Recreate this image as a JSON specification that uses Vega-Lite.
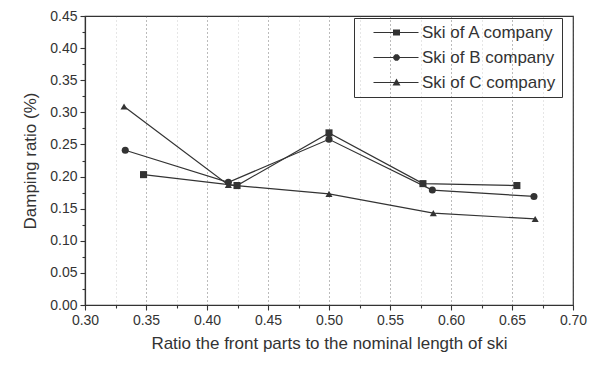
{
  "$schema": "https://vega.github.io/schema/vega-lite/v6.json",
  "width": 488,
  "height": 289,
  "autosize": "none",
  "padding": {"left": 85, "top": 16, "right": 18, "bottom": 60},
  "background": "white",
  "config": {
    "font": "Liberation Sans",
    "view": {"stroke": "#333", "strokeWidth": 1.2},
    "axis": {"labelFont": "Liberation Sans", "titleFont": "Liberation Sans", "titleFontWeight": "normal", "labelColor": "#333", "titleColor": "#333", "domainColor": "#333", "tickColor": "#333", "domainWidth": 1.2, "tickWidth": 1.1}
  },
  "data": {
    "values": [
      {"series": "Ski of A company", "ratio": 0.348, "damping": 0.203},
      {"series": "Ski of A company", "ratio": 0.4246, "damping": 0.186},
      {"series": "Ski of A company", "ratio": 0.5, "damping": 0.268},
      {"series": "Ski of A company", "ratio": 0.577, "damping": 0.189},
      {"series": "Ski of A company", "ratio": 0.654, "damping": 0.186},
      {"series": "Ski of B company", "ratio": 0.333, "damping": 0.241},
      {"series": "Ski of B company", "ratio": 0.4175, "damping": 0.191},
      {"series": "Ski of B company", "ratio": 0.5, "damping": 0.258},
      {"series": "Ski of B company", "ratio": 0.5847, "damping": 0.179},
      {"series": "Ski of B company", "ratio": 0.668, "damping": 0.169},
      {"series": "Ski of C company", "ratio": 0.332, "damping": 0.309},
      {"series": "Ski of C company", "ratio": 0.4175, "damping": 0.187},
      {"series": "Ski of C company", "ratio": 0.5, "damping": 0.173},
      {"series": "Ski of C company", "ratio": 0.5855, "damping": 0.143},
      {"series": "Ski of C company", "ratio": 0.669, "damping": 0.134}
    ]
  },
  "encoding": {
    "x": {
      "field": "ratio", "type": "quantitative",
      "scale": {"domain": [0.3, 0.7], "nice": false, "zero": false},
      "axis": {
        "title": "Ratio the front parts  to the nominal length of ski",
        "titleFontSize": 17, "titlePadding": 8,
        "labelFontSize": 14, "labelPadding": 3,
        "values": [0.3, 0.325, 0.35, 0.375, 0.4, 0.425, 0.45, 0.475, 0.5, 0.525, 0.55, 0.575, 0.6, 0.625, 0.65, 0.675, 0.7],
        "labelExpr": "round(datum.value*1000) % 50 === 0 ? format(datum.value, '.2f') : ''",
        "tickSize": {"condition": {"test": "round(datum.value*1000) % 50 === 0", "value": 5}, "value": 3},
        "grid": true,
        "gridDash": [1, 3],
        "gridColor": "#555",
        "gridOpacity": {"condition": {"test": "round(datum.value*1000) % 50 === 0", "value": 0.8}, "value": 0.3},
        "labelFlush": false
      }
    },
    "y": {
      "field": "damping", "type": "quantitative",
      "scale": {"domain": [0, 0.45], "nice": false},
      "axis": {
        "title": "Damping ratio (%)",
        "titleFontSize": 17, "titlePadding": 10,
        "labelFontSize": 14, "labelPadding": 3,
        "values": [0, 0.025, 0.05, 0.075, 0.1, 0.125, 0.15, 0.175, 0.2, 0.225, 0.25, 0.275, 0.3, 0.325, 0.35, 0.375, 0.4, 0.425, 0.45],
        "labelExpr": "round(datum.value*1000) % 50 === 0 ? format(datum.value, '.2f') : ''",
        "tickSize": {"condition": {"test": "round(datum.value*1000) % 50 === 0", "value": 5}, "value": 3},
        "grid": false,
        "labelFlush": false
      }
    }
  },
  "layer": [
    {
      "mark": {"type": "line", "color": "#333", "strokeWidth": 1.2},
      "encoding": {"detail": {"field": "series"}}
    },
    {
      "mark": {"type": "point", "filled": true, "color": "#333", "size": 50, "opacity": 1},
      "encoding": {
        "shape": {
          "field": "series", "type": "nominal",
          "scale": {"domain": ["Ski of A company", "Ski of B company", "Ski of C company"], "range": ["square", "circle", "triangle-up"]},
          "legend": null
        }
      }
    },
    {
      "transform": [{"filter": "false"}],
      "mark": {"type": "point", "filled": true, "color": "#333", "size": 100, "opacity": 1},
      "encoding": {
        "shape": {
          "field": "series", "type": "nominal",
          "scale": {"domain": ["Ski of A company", "Ski of B company", "Ski of C company"], "range": ["M1,-0.1H10V0.1H1Z M4.9,-0.6H6.3V0.6H4.9Z", "M1,-0.1H10V0.1H1Z M6.247,-0.268L6.247,0.268L5.868,0.647L5.332,0.647L4.953,0.268L4.953,-0.268L5.332,-0.647L5.868,-0.647Z", "M1,-0.1H10V0.1H1Z M5.6,-0.8L6.4,0.6H4.8Z"]},
          "legend": {
            "title": null,
            "orient": "none",
            "legendX": 269,
            "legendY": 2,
            "padding": 6,
            "strokeColor": "#333",
            "labelFontSize": 17,
            "labelColor": "#333",
            "labelOffset": 45,
            "rowPadding": 7,
            "symbolSize": 100,
            "symbolStrokeWidth": 0,
            "symbolFillColor": "#333",
            "symbolOpacity": 1
          }
        }
      }
    }
  ],
  "resolve": {"scale": {"shape": "independent"}}
}
